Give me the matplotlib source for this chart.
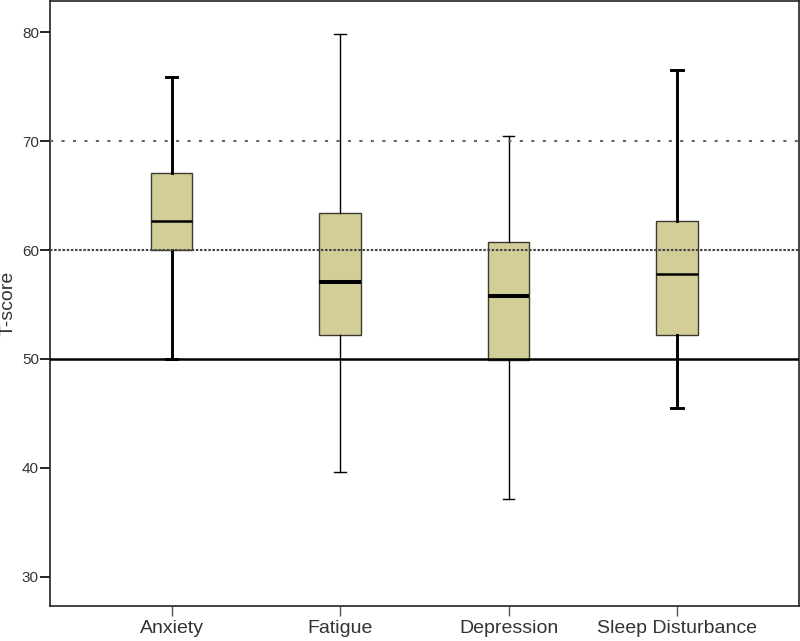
import matplotlib.pyplot as plt

plt.rcParams['font.family'] = ['Liberation Sans', 'DejaVu Sans']

categories = ['Anxiety', 'Fatigue', 'Depression', 'Sleep Disturbance']
whislo = [50.0, 39.6, 37.1, 45.5]
q1 = [60.0, 52.2, 49.9, 52.2]
med = [62.66, 57.1, 55.76, 57.8]
q3 = [67.1, 63.43, 60.73, 62.66]
whishi = [75.86, 79.87, 70.47, 76.5]

# whisker/median thickness differs per box in the original
whisker_lw = [2.1, 1.0, 1.0, 2.1]
median_lw = [1.8, 2.9, 2.9, 1.8]

fig = plt.figure(figsize=(8, 6.41), dpi=100)
ax = fig.add_axes([0.0625, 0.0546, 0.9365, 0.9434])

for i, cat in enumerate(categories):
    stats = [{'label': cat, 'whislo': whislo[i], 'q1': q1[i], 'med': med[i],
              'q3': q3[i], 'whishi': whishi[i], 'fliers': []}]
    ax.bxp(stats, positions=[i], widths=0.247, capwidths=0.068,
           patch_artist=True, showfliers=False,
           boxprops=dict(facecolor='#D3CE98', edgecolor='#3a3a30', linewidth=1.0),
           whiskerprops=dict(color='black', linewidth=whisker_lw[i]),
           capprops=dict(color='black', linewidth=whisker_lw[i]),
           medianprops=dict(color='black', linewidth=median_lw[i]))

# reference lines
ax.axhline(70, color='#666666', lw=1.5, linestyle=(0, (1.5, 4)), zorder=5)
ax.axhline(60, color='#444444', lw=1.5, linestyle=(0, (1.2, 0.8)), zorder=5)
ax.axhline(50, color='black', lw=1.8, zorder=5)

ax.set_xlim(-0.722, 3.724)
ax.set_ylim(27.3, 82.85)
ax.set_xticks(range(len(categories)))
ax.set_xticklabels(categories, fontsize=14, color='#333333')
ax.set_yticks([30, 40, 50, 60, 70, 80])
ax.tick_params(axis='y', length=7, width=1.2, pad=1, labelsize=11, labelcolor='#333333')
ax.tick_params(axis='x', length=7, width=1.0, pad=3, color='#555555')
ax.set_ylabel('T-score', fontsize=14, color='#333333', labelpad=4)

for s in ax.spines.values():
    s.set_linewidth(1.2)
    s.set_color('#222222')

fig.savefig('out.png', dpi=100)
